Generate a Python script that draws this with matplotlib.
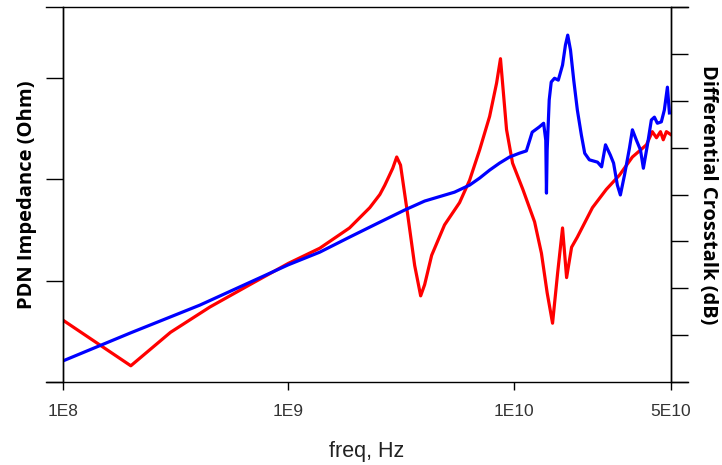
import matplotlib.pyplot as plt
from matplotlib.lines import Line2D

# PDN impedance (red, left axis) - frequency in Hz
pdn_freq = [1.0e8, 2.0e8, 3.0e8, 4.49e8, 6.75e8, 1.0e9, 1.38e9, 1.87e9, 2.30e9, 2.55e9,
            2.68e9, 2.80e9, 2.91e9, 3.03e9, 3.15e9, 3.39e9, 3.64e9, 3.87e9, 4.03e9, 4.33e9,
            4.94e9, 5.76e9, 6.38e9, 7.07e9, 7.83e9, 8.41e9, 8.75e9, 9.31e9, 9.90e9, 1.10e10,
            1.24e10, 1.33e10, 1.41e10, 1.49e10, 1.57e10, 1.65e10, 1.72e10, 1.81e10, 1.92e10,
            2.24e10, 2.58e10, 2.95e10, 3.37e10, 3.89e10, 4.13e10, 4.31e10, 4.49e10, 4.62e10,
            4.77e10, 5.0e10]
pdn_imp = [0.61, 0.16, 0.49, 0.74, 0.96, 1.17, 1.32, 1.52, 1.72, 1.85,
           1.94, 2.03, 2.11, 2.22, 2.14, 1.65, 1.15, 0.85, 0.96, 1.25,
           1.55, 1.77, 1.99, 2.29, 2.62, 2.95, 3.19, 2.49, 2.16, 1.90,
           1.58, 1.27, 0.88, 0.58, 1.08, 1.52, 1.03, 1.33, 1.43,
           1.72, 1.90, 2.04, 2.22, 2.34, 2.47, 2.41, 2.47, 2.39,
           2.47, 2.44]

# Differential crosstalk (blue, right axis)
xt_freq = [1.0e8, 2.0e8, 4.05e8, 1.0e9, 1.38e9, 1.87e9, 2.55e9, 3.29e9, 4.03e9, 5.47e9,
           6.38e9, 7.07e9, 7.83e9, 8.67e9, 9.60e9, 1.06e10, 1.14e10, 1.18e10, 1.21e10, 1.30e10,
           1.36e10, 1.39e10, 1.40e10, 1.41e10, 1.44e10, 1.47e10, 1.52e10, 1.58e10, 1.65e10, 1.70e10,
           1.74e10, 1.79e10, 1.85e10, 1.92e10, 2.00e10, 2.07e10, 2.17e10, 2.36e10, 2.46e10, 2.56e10,
           2.69e10, 2.78e10, 2.89e10, 2.98e10, 3.11e10, 3.27e10, 3.37e10, 3.51e10, 3.66e10, 3.77e10,
           3.93e10, 4.09e10, 4.22e10, 4.35e10, 4.53e10, 4.67e10, 4.82e10, 4.92e10]
xt_db = [-75.5, -69.5, -63.6, -55.0, -52.3, -49.1, -45.9, -43.3, -41.4, -39.5,
         -38.0, -36.5, -34.8, -33.3, -32.0, -31.2, -30.7, -28.4, -26.7, -25.6,
         -24.8, -28.4, -39.7, -30.5, -19.8, -16.0, -15.2, -15.6, -12.4, -8.1,
         -6.0, -9.2, -15.6, -22.0, -27.3, -31.2, -32.6, -33.1, -34.1, -29.4,
         -31.6, -33.3, -38.0, -40.1, -35.8, -30.1, -26.2, -28.4, -30.5, -34.4,
         -29.4, -24.1, -23.5, -24.8, -24.5, -22.0, -17.1, -22.6]

xticks = [1e8, 1e9, 1e10, 5e10]
xtick_labels = ['1E8', '1E9', '1E10', '5E10']

W, H = 722, 465
fig = plt.figure(figsize=(W / 100, H / 100), dpi=100)
ax = fig.add_axes([63 / W, 1 - 382 / H, (671 - 63) / W, (382 - 7) / H])
ax2 = ax.twinx()

ax.plot(pdn_freq, pdn_imp, color='#ff0000', lw=2.3)
ax2.plot(xt_freq, xt_db, color='#0000ff', lw=2.3)

ax.set_xscale('log')
ax.set_xlim(1e8, 5e10)
ax.set_ylim(0, 3.70)
ax2.set_ylim(-80, 0)
ax.set_xticks(xticks)
ax.set_xticklabels(xtick_labels)
ax.minorticks_off()
ax.set_yticks([0, 1, 2, 3])
ax.set_yticklabels([])
ax2.set_yticks(range(-80, 1, 10))
ax2.set_yticklabels([])

for a in (ax, ax2):
    for s in ('top', 'bottom'):
        a.spines[s].set_visible(False)
    for s in ('left', 'right'):
        a.spines[s].set_linewidth(1.0)

ax.tick_params(axis='x', direction='out', length=6, width=1.0, pad=10,
               labelsize=12.5, labelcolor='#333333', labelfontfamily='Liberation Sans')
ax.tick_params(axis='y', direction='out', length=12.5, width=1.0)
ax2.tick_params(axis='y', direction='out', length=12.5, width=1.0)

# top and bottom frame lines run past both spines
for yy in (7, 382):
    fig.add_artist(Line2D([46 / W, 688 / W], [1 - yy / H, 1 - yy / H], color='black', lw=1.0))

ax.set_xlabel('freq, Hz', fontsize=15.5, family='Liberation Sans', color='#222222', labelpad=16)
ax.set_ylabel('PDN Impedance (Ohm)', fontsize=14.5, family='Open Sans', fontweight='bold', labelpad=3)
ax2.set_ylabel('Differential Crosstalk (dB)', fontsize=14.5, family='Open Sans', fontweight='bold',
               rotation=270, labelpad=18)

fig.savefig('out.png', dpi=100)
